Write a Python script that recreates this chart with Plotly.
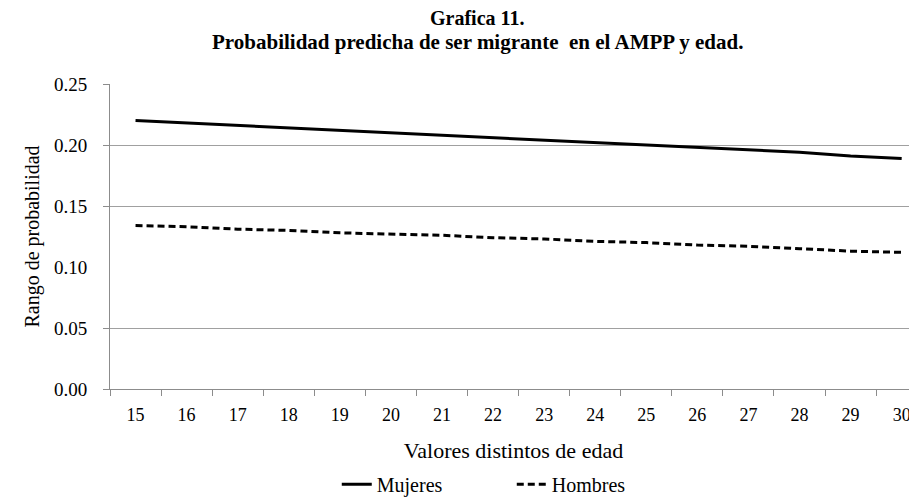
import plotly.graph_objects as go

edad = [15, 16, 17, 18, 19, 20, 21, 22, 23, 24, 25, 26, 27, 28, 29, 30]
mujeres = [0.220, 0.218, 0.216, 0.214, 0.212, 0.210, 0.208, 0.206, 0.204, 0.202,
           0.200, 0.198, 0.196, 0.194, 0.191, 0.189]
hombres = [0.134, 0.133, 0.131, 0.130, 0.128, 0.127, 0.126, 0.124, 0.123, 0.121,
           0.120, 0.118, 0.117, 0.115, 0.113, 0.112]
y_ticks = [0.00, 0.05, 0.10, 0.15, 0.20, 0.25]
y_ticktext = ["0.00", "0.05", "0.10", "0.15", "0.20", "0.25"]
grid_vals = [0.05, 0.15, 0.20, 0.25]

FONT = "Liberation Serif, Times New Roman, serif"

fig = go.Figure()
fig.add_trace(go.Scatter(x=edad, y=mujeres, mode="lines", name="Mujeres",
                         line=dict(color="black", width=3)))
fig.add_trace(go.Scatter(x=edad, y=hombres, mode="lines", name="Hombres",
                         line=dict(color="black", width=3, dash="7px,4px")))

# page body has an 8px margin, so the figure is sized to fill the rest of the window
fig.update_layout(
    width=909, height=492,
    margin=dict(l=102, r=0, t=76, b=111),
    paper_bgcolor="white", plot_bgcolor="white",
    font=dict(family=FONT, color="black", size=17),
    showlegend=True,
    legend=dict(orientation="h", xref="paper", x=0.281, xanchor="left",
                yref="container", y=0.032, yanchor="middle",
                font=dict(size=20, family=FONT), traceorder="normal",
                entrywidth=130, bgcolor="rgba(0,0,0,0)"),
    annotations=[
        dict(text="<b>Grafica 11.</b>", xref="paper", yref="paper", x=0.455, y=1.216,
             xanchor="center", yanchor="middle", showarrow=False,
             font=dict(size=20, family=FONT)),
        dict(text="<b>Probabilidad predicha de ser migrante  en el AMPP y edad.</b>",
             xref="paper", yref="paper", x=0.455, y=1.138,
             xanchor="center", yanchor="middle", showarrow=False,
             font=dict(size=21, family=FONT)),
    ],
)

fig.update_xaxes(
    range=[14.5, 30.3], tickmode="array", tickvals=edad, ticks="", automargin=False,
    showgrid=False, zeroline=False, showline=True, linecolor="#8c8c8c", linewidth=1,
    ticklabelstandoff=9, tickfont=dict(size=18, family=FONT),
    minor=dict(tick0=14.5, dtick=1, ticks="outside", ticklen=6, tickcolor="#8c8c8c",
               showgrid=False),
    title=dict(text="Valores distintos de edad", font=dict(size=22, family=FONT), standoff=19),
)
fig.update_yaxes(
    range=[0, 0.25], tickmode="array", tickvals=y_ticks, ticktext=y_ticktext, ticks="",
    automargin=False,
    showgrid=False, zeroline=False, showline=True, linecolor="#8c8c8c", linewidth=1,
    ticklabelstandoff=18, tickfont=dict(size=19, family=FONT),
    minor=dict(tickmode="array", tickvals=grid_vals + [0.0], ticks="outside", ticklen=6,
               tickcolor="#8c8c8c", showgrid=True, gridcolor="#a0a0a0", gridwidth=1),
    title=dict(text="Rango de probabilidad", font=dict(size=20, family=FONT), standoff=8),
)

fig.write_html("out.html")
